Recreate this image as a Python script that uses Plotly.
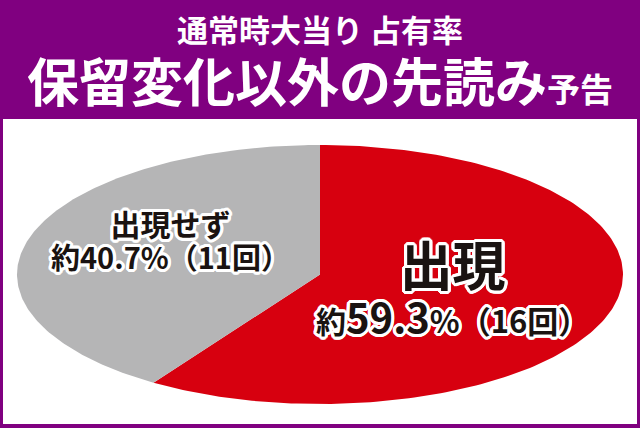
import numpy as np
import plotly.graph_objects as go

# ---- data ----
categories = ["出現", "出現せず"]
counts = [16, 11]
percent_labels = ["59.3", "40.7"]
colors = ["#d7000f", "#b5b5b6"]
title_line1 = "通常時大当り 占有率"
title_line2_main = "保留変化以外の先読み"
title_line2_small = "予告"

W, H = 640, 428
PURPLE = "#800080"
FONT = "Noto Sans CJK JP"

# ellipse geometry (pixel-based layout of the stretched pie)
cx_px, cy_px, a_px, b_px = 320, 274.5, 303, 129.5

fig = go.Figure()

total = sum(counts)
start = np.pi / 2  # 12 o'clock, clockwise like a default pie
for cat, c, col in zip(categories, counts, colors):
    sweep = 2 * np.pi * c / total
    t = np.linspace(start, start - sweep, 200)
    xs = np.concatenate([[0], np.cos(t), [0]])
    ys = np.concatenate([[0], np.sin(t), [0]])
    fig.add_trace(go.Scatter(x=xs, y=ys, mode="lines", fill="toself",
                             fillcolor=col, line=dict(width=0, color=col),
                             name=cat, hoverinfo="name", showlegend=False))
    start -= sweep

# axes map unit circle to the ellipse
fig.update_xaxes(visible=False, range=[-cx_px / a_px, (W - cx_px) / a_px], fixedrange=True)
fig.update_yaxes(visible=False, range=[-(H - cy_px) / b_px, cy_px / b_px], fixedrange=True)

# white panel
fig.add_shape(type="rect", xref="paper", yref="paper",
              x0=3 / W, x1=637 / W, y0=1 - 424 / H, y1=1 - 119 / H,
              fillcolor="white", line=dict(width=0), layer="below")

outline = ", ".join(f"{dx}px {dy}px 0 #fff" for dx, dy in
                    [(3, 0), (-3, 0), (0, 3), (0, -3), (2, 2), (-2, 2), (2, -2), (-2, -2),
                     (3, 1), (-3, 1), (3, -1), (-3, -1), (1, 3), (-1, 3), (1, -3), (-1, -3)])

def ann(text, x, y, size, color="white", shadow=None):
    f = dict(family=FONT, size=size, color=color, weight=900)
    if shadow:
        f["shadow"] = shadow
    fig.add_annotation(text=text, x=x / W, y=1 - y / H, xref="paper", yref="paper",
                       showarrow=False, font=f, xanchor="center", yanchor="middle",
                       align="center")

def sp(txt, size):
    return f"<span style='font-size:{size}px'>{txt}</span>"

# header (base size sets the line spacing)
ann(f"<b>{sp(title_line1, 31)}<br>{sp(title_line2_main, 52)}{sp(title_line2_small, 33)}</b>",
    320, 62, 46)

# slice labels
TXT = "#1a1311"
ann(f"<b>{sp(categories[0], 53)}<br>{sp('約', 30)}{sp(percent_labels[0], 40)}"
    f"{sp('%（' + str(counts[0]) + '回）', 31)}</b>",
    452, 285, 36, TXT, outline)
ann(f"<b>{sp(categories[1], 30)}<br>{sp('約' + percent_labels[1] + '%（' + str(counts[1]) + '回）', 29)}</b>",
    170, 239, 25.5, TXT, outline)

fig.update_layout(width=W, height=H, margin=dict(l=0, r=0, t=0, b=0),
                  paper_bgcolor=PURPLE, plot_bgcolor="rgba(0,0,0,0)")

fig.write_html("out.html", config={"displayModeBar": False},
               post_script="document.body.style.margin='0';document.body.style.overflow='hidden';")
